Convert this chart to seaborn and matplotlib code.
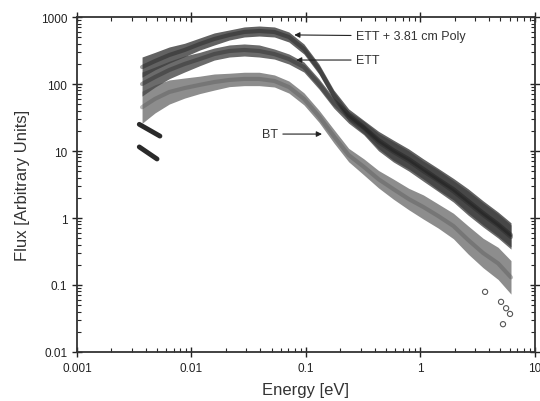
import numpy as np
import pandas as pd
import matplotlib
matplotlib.use("Agg")
import matplotlib.pyplot as plt
import seaborn as sns

# ---- data ----
energy = [0.0037, 0.0048, 0.0064, 0.0087, 0.0118, 0.0158, 0.0214, 0.0289, 0.039, 0.053,
          0.071, 0.096, 0.13, 0.175, 0.236, 0.32, 0.43, 0.58, 0.79, 1.06,
          1.43, 1.94, 2.61, 3.53, 4.77, 6.18]
flux_poly = [179, 220, 271, 322, 395, 470, 539, 598, 618, 598,
             503, 333, 167, 68.5, 34.5, 22.8, 14.6, 10.3, 7.6, 5.4,
             3.8, 2.7, 1.8, 1.19, 0.81, 0.56]
flux_ett = [100, 127, 162, 199, 236, 280, 311, 322, 311, 280,
            236, 179, 100, 52, 32, 22, 13.6, 9.7, 7.1, 5.0,
            3.6, 2.5, 1.67, 1.11, 0.76, 0.52]
flux_bt = [45, 60, 76, 87, 97, 107, 115, 119, 119, 111,
           90, 60, 33, 16.7, 8.7, 5.8, 3.8, 2.7, 1.92, 1.46,
           1.07, 0.76, 0.47, 0.30, 0.21, 0.13]
# scatter half-width of each band (decades)
spread_poly = [0.15, 0.13, 0.12, 0.10, 0.09, 0.09, 0.075, 0.075, 0.075, 0.075,
               0.075, 0.075, 0.075, 0.075, 0.09, 0.10, 0.13, 0.15, 0.15, 0.15,
               0.16, 0.16, 0.18, 0.18, 0.18, 0.18]
spread_ett = [0.18, 0.15, 0.13, 0.12, 0.10, 0.09, 0.09, 0.09, 0.09, 0.075,
              0.075, 0.075, 0.075, 0.075, 0.09, 0.10, 0.13, 0.15, 0.15, 0.15,
              0.16, 0.16, 0.18, 0.18, 0.18, 0.18]
spread_bt = [0.24, 0.21, 0.18, 0.15, 0.13, 0.12, 0.10, 0.10, 0.10, 0.09,
             0.09, 0.09, 0.09, 0.10, 0.10, 0.12, 0.13, 0.15, 0.16, 0.18,
             0.18, 0.19, 0.21, 0.22, 0.24, 0.25]
streak1_energy = [0.0035, 0.0053]
streak1_flux = [25, 16.7]
streak2_energy = [0.0035, 0.0050]
streak2_flux = [11.5, 7.6]
outlier_energy = [3.67, 5.06, 5.26, 6.06, 5.6]
outlier_flux = [0.079, 0.056, 0.026, 0.037, 0.045]

xticks = [0.001, 0.01, 0.1, 1, 10]
xticklabels = ["0.001", "0.01", "0.1", "1", "10"]
yticks = [0.01, 0.1, 1, 10, 100, 1000]
yticklabels = ["0.01", "0.1", "1", "10", "100", "1000"]

sns.set_style("ticks")
plt.rcParams["font.family"] = ["Liberation Sans", "DejaVu Sans"]

fig = plt.figure(figsize=(5.4, 4.02), dpi=100)
ax = fig.add_axes([0.1426, 0.1219, 0.848, 0.8333])
ax.set_xscale("log")
ax.set_yscale("log")

series = [
    ("BT", flux_bt, spread_bt, "#747474", "#555555"),
    ("ETT", flux_ett, spread_ett, "#4a4a4a", "#222222"),
    ("ETT + 3.81 cm Poly", flux_poly, spread_poly, "#3f3f3f", "#161616"),
]
E = np.array(energy)
for name, f, s, col, core in series:
    f = np.array(f)
    s = np.array(s)
    ax.fill_between(E, f / 10 ** s, f * 10 ** s, color=col, alpha=0.82, lw=0, zorder=2)
    df = pd.DataFrame({"Energy": energy, "Flux": f})
    sns.lineplot(data=df, x="Energy", y="Flux", ax=ax, color=core, lw=3,
                 alpha=0.4, zorder=3)

for se, sf in [(streak1_energy, streak1_flux), (streak2_energy, streak2_flux)]:
    sns.lineplot(x=se, y=sf, ax=ax, color="#2a2a2a", lw=3.5, zorder=3)
sns.scatterplot(x=outlier_energy, y=outlier_flux, ax=ax, marker="o", s=14,
                facecolor="none", edgecolor="#555555", linewidth=0.8, zorder=4)

ax.set_xlim(0.001, 10)
ax.set_ylim(0.01, 1000)
ax.set_xticks(xticks)
ax.set_xticklabels(xticklabels)
ax.set_yticks(yticks)
ax.set_yticklabels(yticklabels)
ax.tick_params(which="major", direction="inout", length=7, width=1.0,
               top=True, right=True, labelsize=8.5, colors="#222222")
ax.tick_params(which="minor", direction="in", length=3, width=0.8,
               top=True, right=True)
for sp in ax.spines.values():
    sp.set_linewidth(1.3)
    sp.set_color("#333333")

ax.set_xlabel("Energy [eV]", fontsize=12, color="#333333", labelpad=6)
ax.set_ylabel("Flux [Arbitrary Units]", fontsize=12, color="#333333", labelpad=8)

arrow = dict(arrowstyle="-|>", lw=0.8, color="#222222", mutation_scale=8,
             shrinkA=1, shrinkB=0)
ax.annotate("ETT + 3.81 cm Poly", xy=(0.079, 540), xytext=(0.272, 520),
            fontsize=9, va="center", ha="left", color="#333333", arrowprops=arrow)
ax.annotate("ETT", xy=(0.082, 228), xytext=(0.272, 228),
            fontsize=9, va="center", ha="left", color="#333333", arrowprops=arrow)
ax.annotate("BT", xy=(0.138, 17.9), xytext=(0.0572, 17.9),
            fontsize=9, va="center", ha="right", color="#333333", arrowprops=arrow)

fig.savefig("out.png", dpi=100)
